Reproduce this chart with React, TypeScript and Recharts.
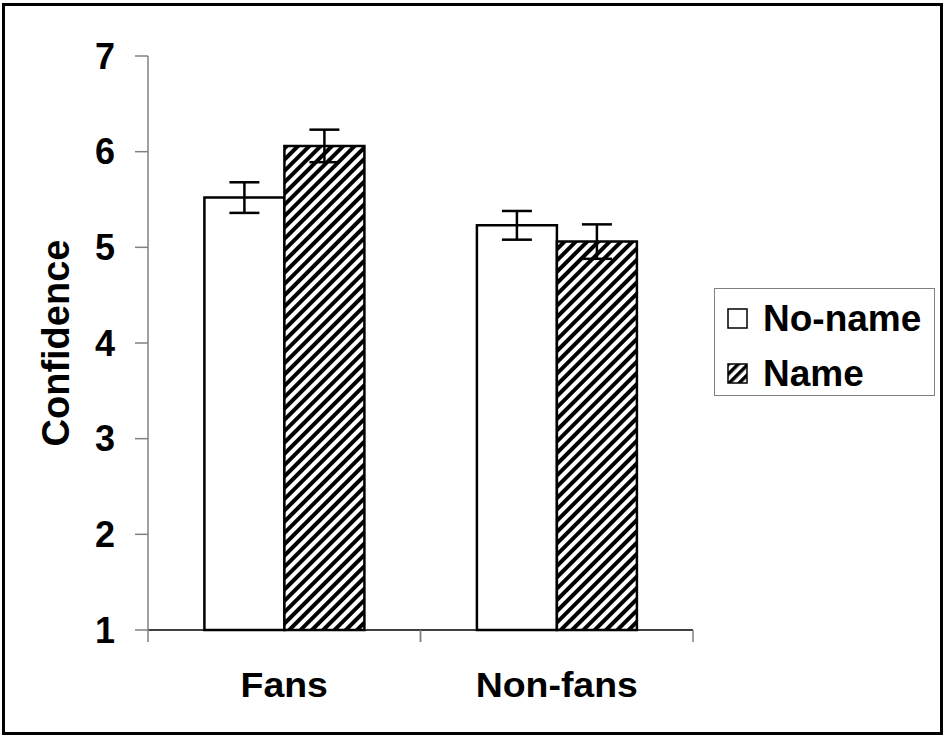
import { BarChart, Bar, XAxis, YAxis, ErrorBar, Legend } from 'recharts'

const categories = ['Fans', 'Non-fans']
const noNameValues = [5.52, 5.23]
const noNameErrors = [0.16, 0.15]
const nameValues = [6.06, 5.06]
const nameErrors = [0.17, 0.18]
const yTicks = [1, 2, 3, 4, 5, 6, 7]

const seriesNames = ['No-name', 'Name']

const data = categories.map((name, i) => ({
  name,
  noName: noNameValues[i],
  noNameErr: noNameErrors[i],
  nameVal: nameValues[i],
  nameErr: nameErrors[i],
}))

const FONT = '"Liberation Sans", Arial, sans-serif'

// category label centred in its band, ticks drawn at the band edges
const CategoryTick = (props: any) => {
  const { x, y, payload } = props
  const off = payload.offset || 0
  return (
    <g>
      <line x1={x - off} x2={x - off} y1={y - 12} y2={y} stroke="#808080" strokeWidth={1.5} />
      <line x1={x + off} x2={x + off} y1={y - 12} y2={y} stroke="#808080" strokeWidth={1.5} />
      <text
        transform={`translate(${x},${y + 55}) scale(1.07,1)`}
        textAnchor="middle"
        fontFamily={FONT}
        fontWeight="bold"
        fontSize={35}
        fill="#000"
      >
        {payload.value}
      </text>
    </g>
  )
}

const renderLegend = () => (
  <div
    style={{
      position: 'relative',
      width: 221,
      height: 108,
      border: '1.5px solid #808080',
      boxSizing: 'border-box',
      background: '#fff',
      fontFamily: FONT,
      fontWeight: 'bold',
      fontSize: 37,
      color: '#000',
    }}
  >
    {seriesNames.map((s, i) => (
      <div key={s} style={{ position: 'absolute', left: 12, top: 10 + i * 55, height: 40, display: 'flex', alignItems: 'center' }}>
        <svg width={22} height={22} style={{ marginRight: 14 }}>
          <defs>
            <pattern id="hatchLegend" patternUnits="userSpaceOnUse" width="7" height="7" patternTransform="rotate(45)">
              <rect width="7" height="7" fill="#fff" />
              <rect width="3.5" height="7" fill="#000" />
            </pattern>
          </defs>
          <rect x={1} y={1} width={19} height={19} fill={i === 0 ? '#fff' : 'url(#hatchLegend)'} stroke="#000" strokeWidth={1.5} />
        </svg>
        <span style={{ lineHeight: '40px' }}>{s}</span>
      </div>
    ))}
  </div>
)

export default function App() {
  return (
    <div
      style={{
        position: 'absolute',
        left: 0,
        top: 0,
        width: 943,
        height: 736,
        background: '#fff',
      }}
    >
      <div
        style={{
          position: 'absolute',
          left: 2,
          top: 3,
          width: 941,
          height: 732,
          border: '3px solid #000',
          boxSizing: 'border-box',
          pointerEvents: 'none',
          zIndex: 2,
        }}
      />
      <BarChart
        width={943}
        height={736}
        data={data}
        margin={{ top: 56, right: 250, bottom: 0, left: 0 }}
        barCategoryGap="20.7%"
        barGap={0}
      >
        <defs>
          <pattern id="hatch" patternUnits="userSpaceOnUse" width="8" height="8" patternTransform="rotate(45)">
            <rect width="8" height="8" fill="#fff" />
            <rect width="4" height="8" fill="#000" />
          </pattern>
        </defs>
        <XAxis
          dataKey="name"
          height={106}
          tickLine={false}
          tickSize={12}
          tickMargin={0}
          axisLine={{ stroke: '#000', strokeWidth: 1.5 }}
          tick={<CategoryTick />}
        />
        <YAxis
          type="number"
          domain={[1, 7]}
          ticks={yTicks}
          width={148}
          tickSize={13}
          tickMargin={20}
          axisLine={{ stroke: '#808080', strokeWidth: 1.5 }}
          tickLine={{ stroke: '#808080', strokeWidth: 1.5 }}
          tick={{ fill: '#000', fontSize: 36, fontWeight: 'bold', fontFamily: FONT }}
          label={{
            value: 'Confidence',
            angle: -90,
            position: 'insideLeft',
            offset: 56,
            style: { textAnchor: 'middle', fontSize: 38, fontWeight: 'bold', fontFamily: FONT, fill: '#000' },
          }}
        />
        <Legend
          layout="horizontal"
          verticalAlign="middle"
          align="center"
          content={renderLegend}
          wrapperStyle={{ position: 'absolute', left: 714, top: 288, width: 221, height: 108 }}
        />
        <Bar dataKey="noName" name="No-name" fill="#fff" stroke="#000" strokeWidth={2.5} isAnimationActive={false}>
          <ErrorBar dataKey="noNameErr" width={15} stroke="#000" strokeWidth={2.5} direction="y" />
        </Bar>
        <Bar dataKey="nameVal" name="Name" fill="url(#hatch)" stroke="#000" strokeWidth={2.5} isAnimationActive={false}>
          <ErrorBar dataKey="nameErr" width={15} stroke="#000" strokeWidth={2.5} direction="y" />
        </Bar>
      </BarChart>
    </div>
  )
}
